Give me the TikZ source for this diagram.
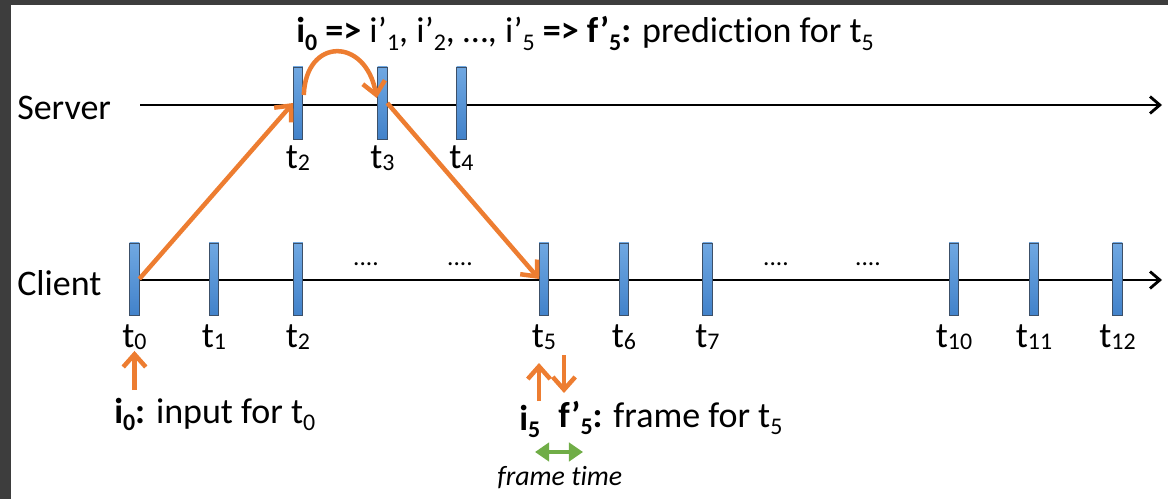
\documentclass[tikz,border=0pt]{standalone}
\usepackage{fontspec}
\setmainfont{Carlito}[Ligatures={TeX,NoCommon}]
\usepackage{xcolor}
\definecolor{tlorange}{RGB}{237,125,49}
\definecolor{tlgreen}{RGB}{112,173,71}
\definecolor{tlbluetop}{RGB}{112,168,226}
\definecolor{tlbluebot}{RGB}{66,130,202}
\definecolor{tledge}{RGB}{60,80,105}
\definecolor{tlframe}{RGB}{61,61,61}
\usetikzlibrary{arrows.meta,calc}
\newcommand{\tsub}[2][5pt]{\raisebox{-#1}{\fontsize{17}{17}\selectfont #2}}

\begin{document}
\begin{tikzpicture}[x=0.025cm, y=-0.025cm, font=\fontsize{25.6}{30}\selectfont]
    \tikzset{slotbar/.style={rectangle, minimum width=0.24cm, minimum height=1.8cm, inner sep=0pt,
      outer sep=0pt, draw=tledge, line width=0.5pt, top color=tlbluetop, bottom color=tlbluebot}}
    \tikzset{tlabel/.style={anchor=base, inner sep=1pt}}
    \tikzset{caption/.style={anchor=base west, inner sep=0pt}}
    \tikzset{dotsnode/.style={anchor=base, font=\fontsize{18}{20}\selectfont}}
    \tikzset{axisline/.style={-{Straight Barb[length=7pt, width=12pt]}, line width=2pt}}
    \tikzset{msgarrow/.style={-{Straight Barb[length=9pt, width=16pt]}, tlorange, line width=3.2pt}}

    \useasboundingbox (0,0) rectangle (1168,499);

    % dark frame
    \fill[tlframe] (0,0) rectangle (11,499);
    \fill[tlframe] (0,0) rectangle (1168,5);

    % Title
    \node[caption] (title) at (296,43) {\textbf{i\tsub{0} =>} i'\tsub{1}, i'\tsub{2}, \dots, i'\tsub{5}
      \textbf{=> f'\tsub{5}:} prediction for t\tsub{5}};

    % Server row
    \node[caption] (srv) at (17,119) {Server};
    \coordinate (sbeg) at (140,105);
    \coordinate (send) at (1162,105);
    \draw[axisline] (sbeg) -- (send);
    \node[slotbar] (s2) at (298,103) {};
    \node[slotbar] (s3) at (382.5,103) {};
    \node[slotbar] (s4) at (461.5,103) {};
    \node[tlabel] (ls2) at (298,168) {t\tsub[1.5pt]{2}};
    \node[tlabel] (ls3) at (382.5,168) {t\tsub[1.5pt]{3}};
    \node[tlabel] (ls4) at (461.5,168) {t\tsub[1.5pt]{4}};

    % Client row
    \node[caption] (cli) at (17,295) {Client};
    \coordinate (cbeg) at (139,280);
    \coordinate (cend) at (1162,280);
    \draw[axisline] (cbeg) -- (cend);
    \node[slotbar] (c0) at (134.5,279) {};
    \node[slotbar] (c1) at (214,279) {};
    \node[slotbar] (c2) at (298,279) {};
    \node[slotbar] (c5) at (544,279) {};
    \node[slotbar] (c6) at (624,279) {};
    \node[slotbar] (c7) at (707.5,279) {};
    \node[slotbar] (c10) at (954,279) {};
    \node[slotbar] (c11) at (1034,279) {};
    \node[slotbar] (c12) at (1117.5,279) {};
    \node[tlabel] (lc0) at (134.5,347) {t\tsub[1.5pt]{0}};
    \node[tlabel] (lc1) at (214,347) {t\tsub[1.5pt]{1}};
    \node[tlabel] (lc2) at (298,347) {t\tsub[1.5pt]{2}};
    \node[tlabel] (lc5) at (544,347) {t\tsub[1.5pt]{5}};
    \node[tlabel] (lc6) at (624,347) {t\tsub[1.5pt]{6}};
    \node[tlabel] (lc7) at (707.5,347) {t\tsub[1.5pt]{7}};
    \node[tlabel] (lc10) at (954,347) {t\tsub[1.5pt]{10}};
    \node[tlabel] (lc11) at (1034,347) {t\tsub[1.5pt]{11}};
    \node[tlabel] (lc12) at (1117.5,347) {t\tsub[1.5pt]{12}};
    \node[dotsnode] (d1) at (366,265) {....};
    \node[dotsnode] (d2) at (460,265) {....};
    \node[dotsnode] (d3) at (776,265) {....};
    \node[dotsnode] (d4) at (868,265) {....};

    % Messages
    \draw[msgarrow] (c0.east) -- (s2.west);
    \draw[msgarrow] ($(s2.east)+(1,-8)$) .. controls ($(s2.east)+(3,-66)$)
      and ($(s3.west)+(-12,-66)$) .. ($(s3.west)+(-1,-5)$);
    \draw[msgarrow] (s3.east) -- (c5.west);

    % Input and frame notes
    \node[caption] (inp0) at (114,423) {\textbf{i\tsub{0}:} input for t\tsub{0}};
    \coordinate (up0) at (134.5,390);
    \draw[msgarrow] (up0) -- (lc0.south);
    \node[caption] (inp5) at (519,430) {\textbf{i\tsub{5}}};
    \node[caption] (frm5) at (558,427) {\textbf{f'\tsub{5}:} frame for t\tsub{5}};
    \coordinate (up5a) at (539,401);
    \coordinate (up5b) at (539,363);
    \coordinate (dn5a) at (564,355);
    \coordinate (dn5b) at (564,393);
    \draw[msgarrow] (up5a) -- (up5b);
    \draw[msgarrow] (dn5a) -- (dn5b);

    % Frame time
    \coordinate (ft1) at (535,452);
    \coordinate (ft2) at (583,452);
    \draw[{Triangle[length=10pt, width=13pt]}-{Triangle[length=10pt, width=13pt]}, tlgreen,
      line width=3pt] (ft1) -- (ft2);
    \node[caption, font=\itshape\fontsize{19.8}{22}\selectfont] (ftime) at (497,485) {frame time};
\end{tikzpicture}
\end{document}
